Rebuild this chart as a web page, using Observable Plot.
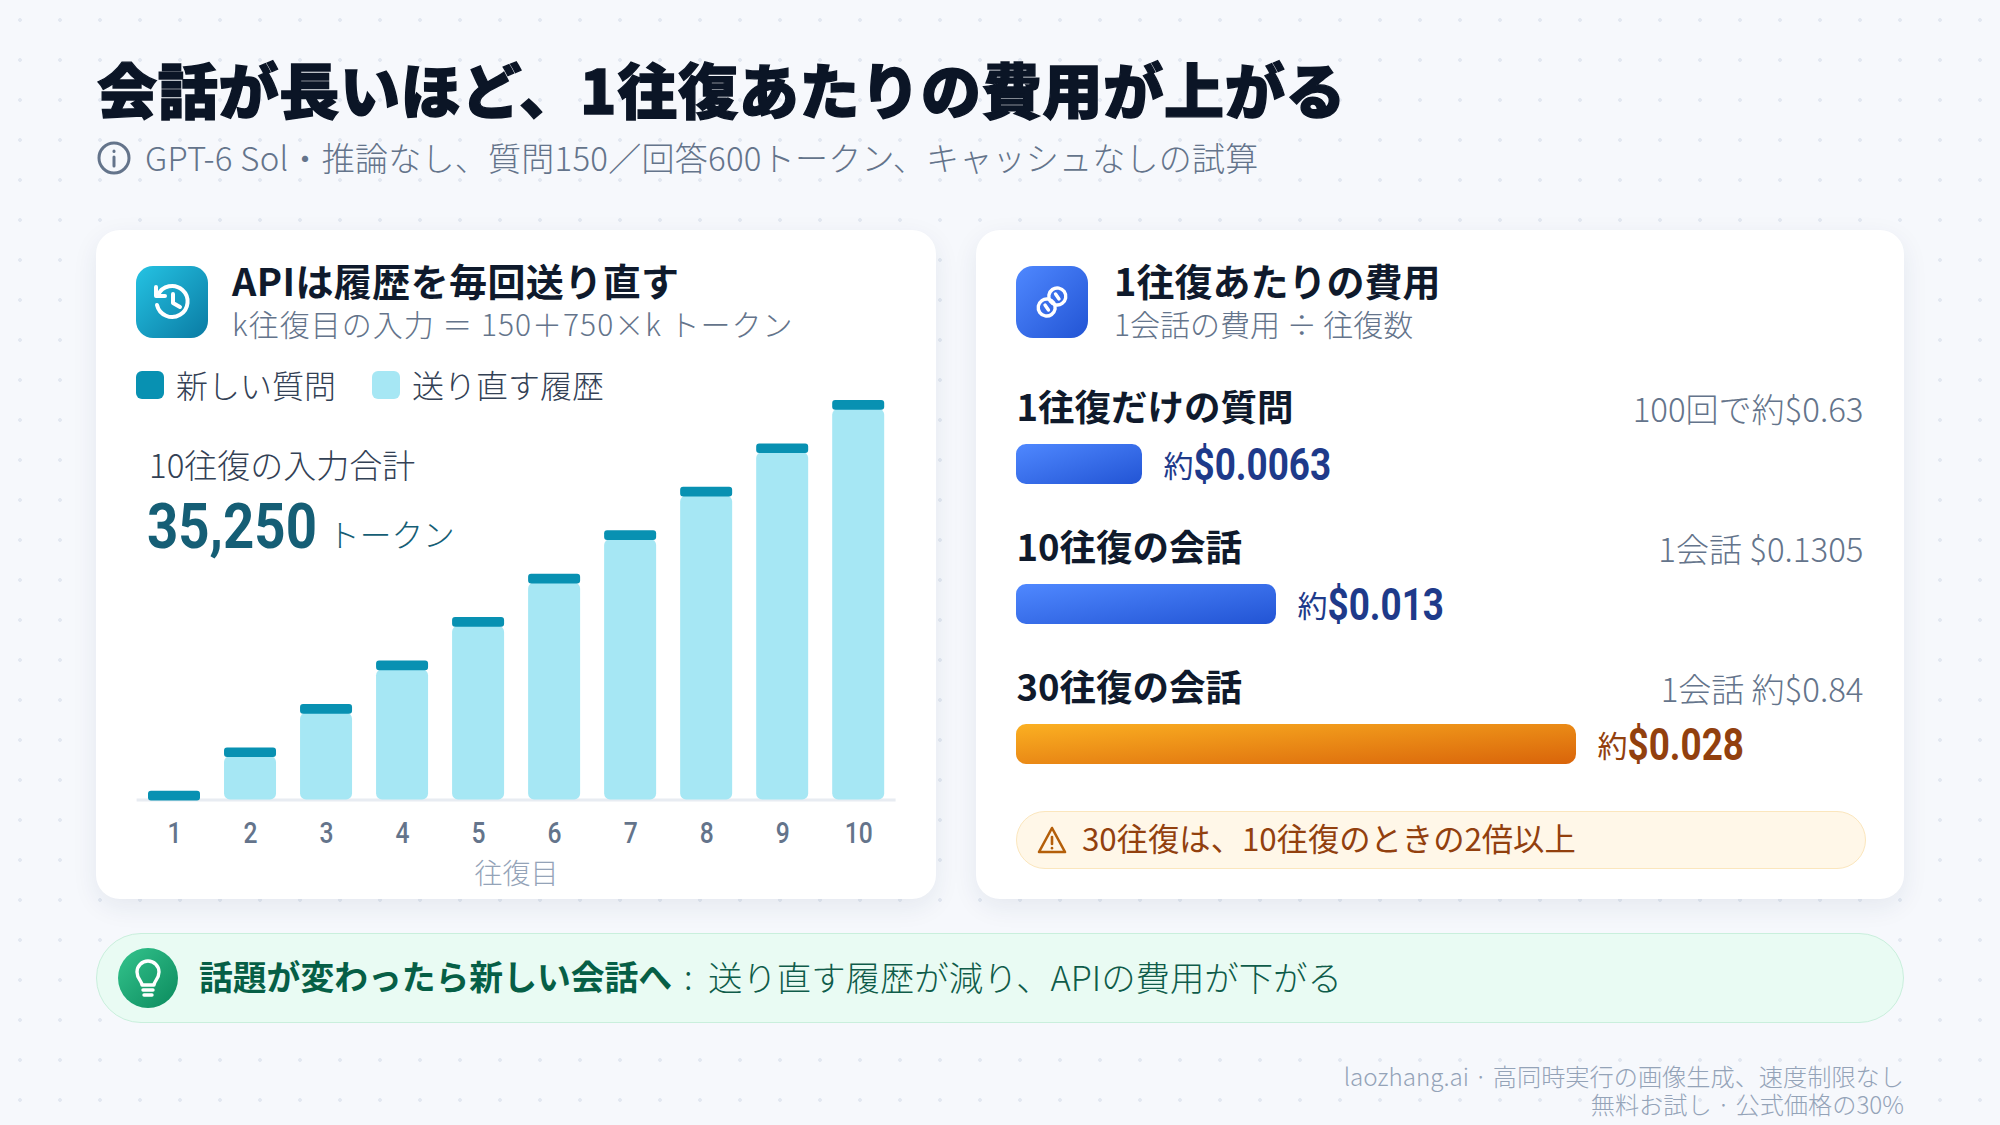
<!DOCTYPE html>
<html lang="ja"><head><meta charset="utf-8">
<script src="https://cdn.jsdelivr.net/npm/d3@7"></script>
<script src="https://cdn.jsdelivr.net/npm/@observablehq/plot@0.6"></script>
<style>
html,body{margin:0;padding:0;width:2000px;height:1125px;overflow:hidden}
body{position:relative;font-family:"Noto Sans CJK JP","Noto Sans",sans-serif;
 background-color:#f6f8fc;
 background-image:radial-gradient(circle at 20px 20px,#e3e8f1 1.6px,transparent 2.2px);
 background-size:40px 40px}
.t{position:absolute;white-space:nowrap;line-height:1;transform:translateY(-50%);font-weight:300}
.card{position:absolute;background:#fff;border-radius:24px;box-shadow:0 8px 26px rgba(30,50,90,.08)}
.abs{position:absolute}
.plot{position:absolute}
.num{font-family:Roboto,"Noto Sans CJK JP",sans-serif;transform:translateY(-50%) scaleX(.866);transform-origin:left center}
</style></head><body>
<svg width="0" height="0" style="position:absolute"><defs>
 <linearGradient id="gBlue" x1="0" y1="0" x2="1" y2="1"><stop offset="0" stop-color="#4f88ff"/><stop offset="1" stop-color="#2254d4"/></linearGradient>
 <linearGradient id="gOrange" x1="0" y1="0" x2="1" y2="1"><stop offset="0" stop-color="#fbb022"/><stop offset="1" stop-color="#d9640a"/></linearGradient>
 <linearGradient id="gCyan" x1="0" y1="0" x2="1" y2="1"><stop offset="0" stop-color="#25c3e3"/><stop offset="1" stop-color="#0a7ba3"/></linearGradient>
 <linearGradient id="gGreen" x1="0" y1="0" x2="1" y2="1"><stop offset="0" stop-color="#34c48d"/><stop offset="1" stop-color="#0b8a5d"/></linearGradient>
</defs></svg>

<div class="t" style="left:97px;top:87.5px;font-size:60px;font-weight:900;letter-spacing:.75px;color:#0b1526;-webkit-text-stroke:1.4px #0b1526">会話が長いほど、1往復あたりの費用が上がる</div>
<svg class="abs" style="left:97px;top:141px" width="34" height="34" viewBox="0 0 34 34" fill="none" stroke="#64748b" stroke-width="3" stroke-linecap="round"><circle cx="17" cy="17" r="15"/><path d="M17 16v9"/><path d="M17 10v.5"/></svg>
<div class="t" style="left:145px;top:156.5px;font-size:33px;letter-spacing:.25px;color:#64748b">GPT-6 Sol・推論なし、質問150／回答600トークン、キャッシュなしの試算</div>

<div class="card" style="left:96px;top:230px;width:840px;height:669px"></div>
<div class="card" style="left:976px;top:230px;width:928px;height:669px"></div>

<svg class="abs" style="left:136px;top:266px" width="72" height="72" viewBox="0 0 72 72"><rect width="72" height="72" rx="17" fill="url(#gCyan)"/>
 <g fill="none" stroke="#fff" stroke-width="4" stroke-linecap="round" stroke-linejoin="round"><path d="M22 29a15.5 15.5 0 1 1-1 10"/><path d="M20 21v9h9"/><path d="M37 28v9l7 4"/></g></svg>
<div class="t" style="left:232px;top:279.5px;font-size:38px;letter-spacing:.4px;font-weight:700;color:#0f1a2c">APIは履歴を毎回送り直す</div>
<div class="t" style="left:232px;top:322.5px;font-size:30px;letter-spacing:1px;color:#64748b">k往復目の入力 ＝ 150＋750×k トークン</div>

<div class="abs" style="left:136px;top:371px;width:28px;height:28px;border-radius:6px;background:#0891b2"></div>
<div class="t" style="left:176px;top:383.5px;font-size:32px;color:#334155">新しい質問</div>
<div class="abs" style="left:372px;top:371px;width:28px;height:28px;border-radius:6px;background:#a6e7f4"></div>
<div class="t" style="left:412px;top:383.5px;font-size:32px;color:#334155">送り直す履歴</div>

<div id="left" class="plot" style="left:96px;top:230px"></div>

<div class="t" style="left:149px;top:463.5px;font-size:33px;color:#334155">10往復の入力合計</div>
<div class="t num" style="left:147px;top:526px;font-size:63px;font-weight:700;color:#155e75">35,250</div>
<div class="t" style="left:328px;top:533.5px;font-size:31.7px;color:#155e75">トークン</div>

<svg class="abs" style="left:1016px;top:266px" width="72" height="72" viewBox="0 0 72 72"><rect width="72" height="72" rx="17" fill="url(#gBlue)"/>
 <g fill="none" stroke="#fff" stroke-width="3.4" transform="rotate(-35 36 36)"><rect x="20" y="29" width="17" height="17" rx="8.5"/><rect x="35" y="26" width="17" height="17" rx="8.5"/><path d="M28.5 34.5v6M43.5 31.5v6" stroke-linecap="round"/></g></svg>
<div class="t" style="left:1114px;top:279.5px;font-size:38px;font-weight:700;color:#0f1a2c">1往復あたりの費用</div>
<div class="t" style="left:1114px;top:322.5px;font-size:30px;color:#64748b">1会話の費用 ÷ 往復数</div>

<div id="right" class="plot" style="left:976px;top:230px"></div>

<div class="abs" style="left:1016px;top:811px;width:848px;height:56px;border-radius:29px;background:#fff7e8;border:1.5px solid #fbe6bd"></div>
<svg class="abs" style="left:1036px;top:824px" width="32" height="32" viewBox="0 0 32 32" fill="none" stroke="#b45f0a" stroke-width="2.6" stroke-linecap="round" stroke-linejoin="round"><path d="M16 4 L29 28 H3 Z"/><path d="M16 13v7"/><path d="M16 24v.3"/></svg>
<div class="t" style="left:1082px;top:837.5px;font-size:31.3px;font-weight:400;color:#92400e">30往復は、10往復のときの2倍以上</div>

<div class="abs" style="left:96px;top:933px;width:1806px;height:88px;border-radius:45px;background:#e9fbf3;border:1.5px solid #c9efdc"></div>
<svg class="abs" style="left:118px;top:948px" width="60" height="60" viewBox="0 0 60 60"><circle cx="30" cy="30" r="30" fill="url(#gGreen)"/>
 <g fill="none" stroke="#fff" stroke-width="3.4" stroke-linecap="round" stroke-linejoin="round"><path d="M24 37c0-4-5-6-5-13a11 11 0 0 1 22 0c0 7-5 9-5 13z"/><path d="M25 42h10M26 47h8"/></g></svg>
<div class="t" style="left:199px;top:975.5px;font-size:33.8px;font-weight:700;color:#065f46">話題が変わったら新しい会話へ</div>
<div class="t" style="left:684px;top:975.5px;font-size:34px;color:#0f5c4a">:</div>
<div class="t" style="left:708px;top:975.5px;font-size:34.4px;color:#0f5c4a">送り直す履歴が減り、APIの費用が下がる</div>

<div class="t" style="right:96px;top:1075.5px;font-size:24.2px;color:#94a3b8">laozhang.ai · 高同時実行の画像生成、速度制限なし</div>
<div class="t" style="right:96px;top:1103.5px;font-size:24.2px;color:#94a3b8">無料お試し · 公式価格の30%</div>

<script>
// Left chart: input tokens per round trip
const rounds = [1,2,3,4,5,6,7,8,9,10];
const newQuestionTokens = [150,150,150,150,150,150,150,150,150,150];
const historyTokens = [0,750,1500,2250,3000,3750,4500,5250,6000,6750];
// Right chart: cost per round trip
const rowLabels = ["1往復だけの質問","10往復の会話","30往復の会話"];
const rowCosts = [0.0063,0.013,0.028];
const rowNotes = ["100回で約$0.63","1会話 $0.1305","1会話 約$0.84"];

const fontCJK = '"Noto Sans CJK JP","Noto Sans",sans-serif';
const fontNum = 'Roboto,"Noto Sans CJK JP",sans-serif';
const squeeze = (els,k)=>els.forEach(el=>
  el.setAttribute("transform",(el.getAttribute("transform")||"")+` scale(${k},1)`));

const tokenRows = rounds.map((k,i)=>({k,history:historyTokens[i],total:historyTokens[i]+newQuestionTokens[i]}));
const left = Plot.plot({
  width:840,height:669,marginLeft:40.6,marginRight:40.4,marginTop:170,marginBottom:99.5,
  style:{background:"transparent",fontFamily:fontNum,overflow:"visible"},
  x:{domain:rounds,paddingInner:0.316,paddingOuter:0.15,round:false,label:null},
  y:{domain:[0,6900],axis:null},
  marks:[
    Plot.ruleY([0],{stroke:"#e8ecf2",strokeWidth:3}),
    Plot.barY(tokenRows,{x:"k",y1:0,y2:"history",fill:"#a6e7f4",r:6}),
    Plot.barY(tokenRows,{x:"k",y1:"history",y2:"total",fill:"#0891b2",r:3,insetBottom:-1}),
    Plot.axisX({tickSize:0,tickPadding:22.5,fontSize:29,fontWeight:500,color:"#64748b",label:null}),
    Plot.text(["往復目"],{frameAnchor:"bottom",dy:84,fontSize:28,fontWeight:300,fill:"#94a3b8",fontFamily:fontCJK})
  ]
});
squeeze(left.querySelectorAll('g[aria-label="x-axis tick label"] text'),0.85);
document.getElementById("left").append(left);

const costRows = rowLabels.map((label,i)=>({label,cost:rowCosts[i],note:rowNotes[i],i}));
const barFill = d=>d.i===2?"url(#gOrange)":"url(#gBlue)";
const valFill = d=>d.i===2?"#92400e":"#1e3a8a";
const right = Plot.plot({
  width:928,height:669,marginLeft:40,marginRight:41,marginTop:214,marginBottom:135,
  style:{background:"transparent",fontFamily:fontCJK,overflow:"visible"},
  x:{domain:[0,0.04235],axis:null},
  y:{domain:rowLabels,paddingInner:0.714,paddingOuter:0,round:false,axis:null},
  marks:[
    Plot.barX(costRows,{x:"cost",y:"label",fill:{value:barFill,scale:null},r:10}),
    Plot.text(costRows,{x:0,y:"label",text:"label",dy:-55.5,textAnchor:"start",fontSize:36.5,fontWeight:700,fill:"#0f1a2c"}),
    Plot.text(costRows,{frameAnchor:"right",y:"label",text:"note",dy:-53.5,textAnchor:"end",fontSize:33,fontWeight:300,fill:"#64748b"}),
    Plot.text(costRows,{x:"cost",y:"label",text:()=>"約",dx:21,dy:3,textAnchor:"start",fontSize:30,fill:{value:valFill,scale:null}}),
    Plot.text(costRows,{x:"cost",y:"label",text:d=>"$"+d.cost,dx:51,dy:1.2,textAnchor:"start",fontSize:45,fontWeight:700,fontFamily:fontNum,fill:{value:valFill,scale:null}})
  ]
});
squeeze([...right.querySelectorAll("text")].filter(el=>el.textContent.startsWith("$")),0.82);
document.getElementById("right").append(right);
</script>
</body></html>
